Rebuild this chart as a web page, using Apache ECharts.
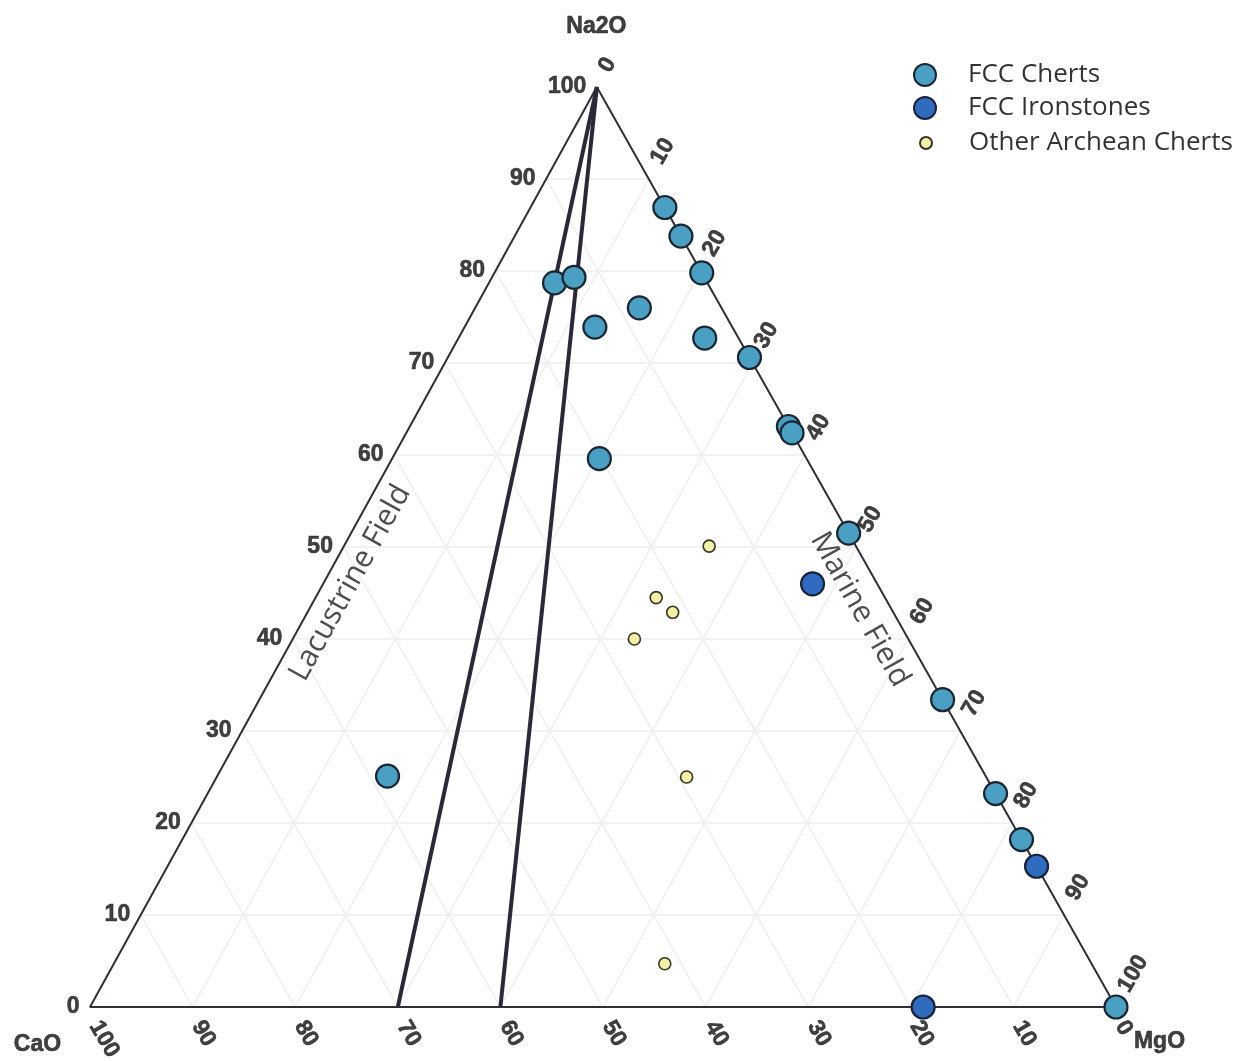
<!DOCTYPE html>
<html>
<head>
<meta charset="utf-8">
<title>Na2O - CaO - MgO ternary</title>
<script src="https://cdn.jsdelivr.net/npm/echarts@6/dist/echarts.min.js"></script>
<style>
  html, body { margin: 0; padding: 0; background: #ffffff; }
  #chart { width: 1240px; height: 1061px; }
</style>
</head>
<body>
<div id="chart"></div>
<script>
// Compositions as [Na2O, CaO, MgO] in percent
const fccCherts = [
  [86.9, 0, 13.1],
  [83.8, 0, 16.2],
  [79.8, 0, 20.2],
  [72.7, 3.3, 24.0],
  [70.6, 0, 29.4],
  [63.1, 0, 36.9],
  [62.4, 0, 37.6],
  [51.5, 0, 48.5],
  [33.4, 0, 66.6],
  [23.2, 0, 76.8],
  [18.2, 0, 81.8],
  [0, 0, 100],
  [78.7, 14.9, 6.4],
  [79.3, 12.7, 8.0],
  [73.9, 13.4, 12.7],
  [76.0, 8.0, 16.0],
  [59.6, 20.2, 20.2],
  [25.1, 58.3, 16.6]
];
const fccIronstones = [
  [46.0, 6.3, 47.7],
  [15.3, 0, 84.7],
  [0, 18.8, 81.2]
];
const otherArcheanCherts = [
  [50.1, 14.3, 35.6],
  [44.5, 22.3, 33.2],
  [42.9, 21.5, 35.6],
  [40.0, 26.7, 33.3],
  [25.0, 29.2, 45.8],
  [4.7, 41.6, 53.7]
];
// Field boundaries run from the Na2O apex to these [CaO, MgO] points on the base
const fieldBoundaries = [[70, 30], [60, 40]];
const ticks = [0, 10, 20, 30, 40, 50, 60, 70, 80, 90, 100];
const seriesNames = ['FCC Cherts', 'FCC Ironstones', 'Other Archean Cherts'];
const apexNames = ['Na2O', 'CaO', 'MgO'];
const fieldNames = ['Lacustrine Field', 'Marine Field'];

// Horizontal position of the Na2O apex as a fraction of the base
const APEX_X = 0.494;
function tern(na, ca, mg) {
  const s = na + ca + mg;
  return [(mg + na * APEX_X) / s, na / s];
}

const tickFont = {
  fontFamily: 'Liberation Sans, Arial, sans-serif', fontWeight: 'bold', fontSize: 23,
  color: '#111111', textBorderColor: '#111111', textBorderWidth: 0.6
};
const legendText = { fontFamily: 'Open Sans, Noto Sans, sans-serif', fontSize: 26, color: '#333', lineHeight: 22 };

// Faint 10% grid in the three directions
const inner = ticks.filter(t => t > 0 && t < 100);
const gridLines = [];
inner.forEach(t => {
  gridLines.push({ coords: [tern(t, 100 - t, 0), tern(t, 0, 100 - t)] });
  gridLines.push({ coords: [tern(100 - t, t, 0), tern(0, t, 100 - t)] });
  gridLines.push({ coords: [tern(100 - t, 0, t), tern(0, 100 - t, t)] });
});

const outline = [tern(100, 0, 0), tern(0, 100, 0), tern(0, 0, 100), tern(100, 0, 0)];
const boundaryLines = fieldBoundaries.map(b => ({ coords: [tern(100, 0, 0), tern(0, b[0], b[1])] }));

const hidden = { color: 'rgba(0,0,0,0)' };

const option = {
  animation: false,
  backgroundColor: '#ffffff',
  grid: { left: 90, right: 124, top: 87, bottom: 54 },
  xAxis: { type: 'value', min: 0, max: 1, show: false },
  yAxis: { type: 'value', min: 0, max: 1, show: false },
  legend: [
    {
      data: [seriesNames[0], seriesNames[1]],
      orient: 'vertical', left: 913, top: 62, padding: 0,
      itemWidth: 76, itemHeight: 22, itemGap: 7, icon: 'circle',
      textStyle: legendText
    },
    {
      data: [seriesNames[2]],
      orient: 'vertical', left: 919, top: 130, padding: 0,
      itemWidth: 76, itemHeight: 12, icon: 'circle',
      textStyle: legendText
    }
  ],
  series: [
    {
      name: 'grid', type: 'lines', coordinateSystem: 'cartesian2d', silent: true, z: 1,
      lineStyle: { color: '#eeeeee', width: 1.5, opacity: 1 },
      data: gridLines
    },
    {
      name: 'outline', type: 'line', silent: true, z: 2, showSymbol: false,
      lineStyle: { color: '#2f2f36', width: 2 },
      data: outline
    },
    {
      name: 'boundaries', type: 'lines', coordinateSystem: 'cartesian2d', silent: true, z: 3,
      lineStyle: { color: '#2a2a36', width: 4, opacity: 1 },
      data: boundaryLines
    },
    {
      name: seriesNames[0], type: 'scatter', z: 5, symbolSize: 23,
      itemStyle: { color: '#4aa0c2', borderColor: '#1c2633', borderWidth: 2.2, opacity: 1 },
      data: fccCherts.map(p => tern(p[0], p[1], p[2]))
    },
    {
      name: seriesNames[1], type: 'scatter', z: 6, symbolSize: 23,
      itemStyle: { color: '#2f6cc0', borderColor: '#1a2236', borderWidth: 2.2, opacity: 1 },
      data: fccIronstones.map(p => tern(p[0], p[1], p[2]))
    },
    {
      name: seriesNames[2], type: 'scatter', z: 6, symbolSize: 12,
      itemStyle: { color: '#f3f1a4', borderColor: '#34342a', borderWidth: 1.6, opacity: 1 },
      data: otherArcheanCherts.map(p => tern(p[0], p[1], p[2]))
    },
    // Na2O scale along the left edge
    {
      name: 'na2oTicks', type: 'scatter', silent: true, z: 7, symbolSize: 1, itemStyle: hidden,
      label: { show: true, position: 'left', distance: 10, formatter: p => ticks[p.dataIndex], ...tickFont },
      data: ticks.map(t => tern(t, 100 - t, 0))
    },
    // CaO scale along the base
    {
      name: 'caoTicks', type: 'scatter', silent: true, z: 7, symbolSize: 1, itemStyle: hidden,
      label: { show: true, position: [5, 16], rotate: -60, align: 'left', verticalAlign: 'middle',
        formatter: p => ticks[p.dataIndex], ...tickFont },
      data: ticks.map(t => tern(0, t, 100 - t))
    },
    // MgO scale along the right edge
    {
      name: 'mgoTicks', type: 'scatter', silent: true, z: 7, symbolSize: 1, itemStyle: hidden,
      label: { show: true, position: [8, -16], rotate: 60, align: 'left', verticalAlign: 'middle',
        formatter: p => ticks[p.dataIndex], ...tickFont },
      data: ticks.map(t => tern(100 - t, 0, t))
    },
    // Component names at the corners
    {
      name: 'apexNames', type: 'scatter', silent: true, z: 7, symbolSize: 1, itemStyle: hidden,
      label: { show: true, align: 'center', verticalAlign: 'middle', formatter: p => apexNames[p.dataIndex], ...tickFont },
      data: [
        { value: tern(100, 0, 0), label: { position: [0, -60] } },
        { value: tern(0, 100, 0), label: { position: [-52, 38] } },
        { value: tern(0, 0, 100), label: { position: [44, 35] } }
      ]
    },
    // Field names
    {
      name: 'fieldNames', type: 'scatter', silent: true, z: 7, symbolSize: 1, itemStyle: hidden,
      label: { show: true, position: 'inside', align: 'center', verticalAlign: 'middle',
        fontFamily: 'Open Sans, Noto Sans, sans-serif', fontSize: 30, color: '#222',
        formatter: p => fieldNames[p.dataIndex] },
      data: [
        { value: tern(46.1, 51.3, 2.6), label: { rotate: 61 } },
        { value: tern(43.2, 3.1, 53.7), label: { rotate: -60.6 } }
      ]
    }
  ]
};

const chart = echarts.init(document.getElementById('chart'), null, { renderer: 'canvas' });
chart.setOption(option);
</script>
</body>
</html>
